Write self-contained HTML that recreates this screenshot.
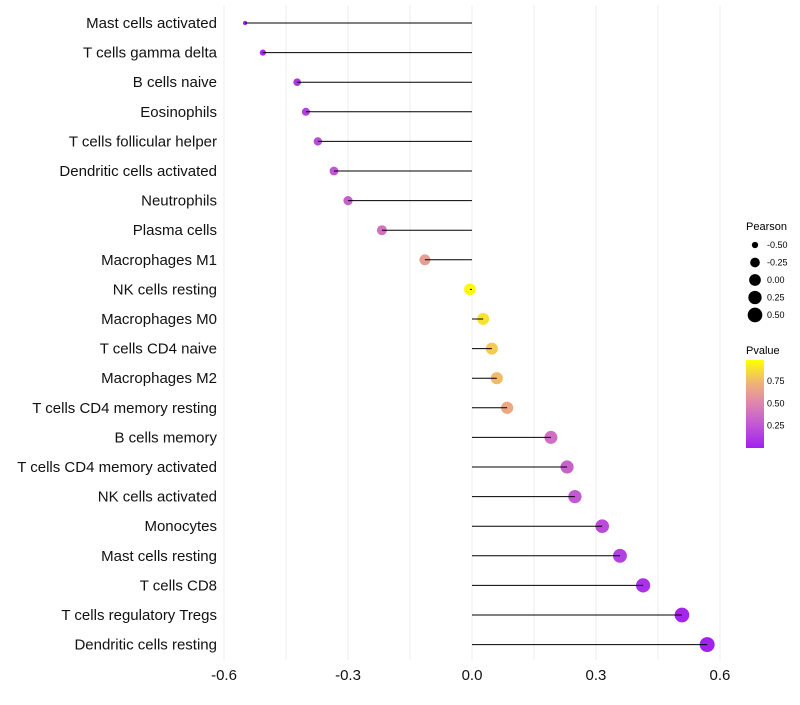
<!DOCTYPE html>
<html><head><meta charset="utf-8"><style>
body{margin:0;background:#fff;font-family:"Liberation Sans",sans-serif}
</style></head><body>
<svg id="chart" width="800" height="700" xmlns="http://www.w3.org/2000/svg" font-family="Liberation Sans, sans-serif">
<g id="grid"></g><g id="dots"></g><g id="marks"></g><g id="ylabels"></g><g id="xticks"></g>
<g id="legend">
<text x="746" y="230" font-size="11">Pearson</text>
<g id="sizeLegend"></g>
<text x="746" y="354" font-size="11">Pvalue</text>
<defs><linearGradient id="pg" x1="0" y1="1" x2="0" y2="0">
<stop offset="0" stop-color="#a020f0"/><stop offset="0.25" stop-color="#c055d5"/><stop offset="0.5" stop-color="#dc85b0"/><stop offset="0.75" stop-color="#f0b672"/><stop offset="1" stop-color="#ffff00"/></linearGradient></defs>
<rect x="746" y="360" width="18" height="88" fill="url(#pg)"/>
<g id="cbTicks"></g>
</g>
</svg>
<script>
const categories=["Mast cells activated","T cells gamma delta","B cells naive","Eosinophils","T cells follicular helper","Dendritic cells activated","Neutrophils","Plasma cells","Macrophages M1","NK cells resting","Macrophages M0","T cells CD4 naive","Macrophages M2","T cells CD4 memory resting","B cells memory","T cells CD4 memory activated","NK cells activated","Monocytes","Mast cells resting","T cells CD8","T cells regulatory  Tregs","Dendritic cells resting"];
const pearson=[-0.549,-0.506,-0.423,-0.402,-0.373,-0.334,-0.300,-0.218,-0.114,-0.005,0.027,0.048,0.060,0.085,0.191,0.230,0.249,0.315,0.358,0.414,0.508,0.569];
const pvalue=[0.02,0.05,0.1,0.15,0.2,0.25,0.3,0.4,0.62,0.98,0.9,0.82,0.77,0.68,0.38,0.32,0.27,0.2,0.15,0.08,0.03,0.01];
const xTicks=[-0.6,-0.3,0.0,0.3,0.6];
const xTickLabels=["-0.6","-0.3","0.0","0.3","0.6"];
const sizeLegendVals=[-0.5,-0.25,0,0.25,0.5];
const sizeLegendLabels=["-0.50","-0.25","0.00","0.25","0.50"];
const cbVals=[0.75,0.5,0.25];
const cbLabels=["0.75","0.50","0.25"];
const NS="http://www.w3.org/2000/svg";
const x=v=>472+v*413.3;
const y=i=>23+i*29.6;
const r=v=>2+5.5*Math.sqrt(Math.max(0,(v+0.55)/1.12));
const stops=[[0,[160,32,240]],[0.25,[192,85,213]],[0.5,[220,133,176]],[0.75,[240,182,114]],[1,[255,255,0]]];
function col(p){for(let k=1;k<stops.length;k++){if(p<=stops[k][0]){const a=stops[k-1],b=stops[k],t=(p-a[0])/(b[0]-a[0]);return "rgb("+a[1].map((c,j)=>Math.round(c+(b[1][j]-c)*t)).join(",")+")";}}return "rgb(255,255,0)";}
function mk(tag,attrs,parent){const e=document.createElementNS(NS,tag);for(const k in attrs)e.setAttribute(k,attrs[k]);document.getElementById(parent).appendChild(e);return e;}
[-0.6,-0.45,-0.3,-0.15,0,0.15,0.3,0.45,0.6].forEach(v=>{const l=mk("line",{x1:x(v),x2:x(v),y1:5,y2:660,stroke:"#ececec","stroke-width":1},"grid");

});
categories.forEach((c,i)=>{
const t=mk("text",{x:217,y:y(i)+5,"text-anchor":"end","font-size":15,fill:"#111"},"ylabels");t.textContent=c;


const d=mk("circle",{cx:x(pearson[i]),cy:y(i),r:r(pearson[i]),fill:col(pvalue[i])},"dots");


const l=mk("line",{x1:x(0),x2:x(pearson[i]),y1:y(i),y2:y(i),stroke:"#000","stroke-width":1},"marks");


});
xTicks.forEach((v,i)=>{const t=mk("text",{x:x(v),y:680,"text-anchor":"middle","font-size":15,fill:"#111"},"xticks");t.textContent=xTickLabels[i];

});
sizeLegendVals.forEach((v,i)=>{const cy=245+i*17.5;
const c=mk("circle",{cx:755,cy:cy,r:r(v),fill:"#000"},"sizeLegend");


const t=mk("text",{x:767,y:cy+3,"font-size":9},"sizeLegend");t.textContent=sizeLegendLabels[i];

});
cbVals.forEach((v,i)=>{const cy=448-v*89.5;
const t=mk("text",{x:767,y:cy+3,"font-size":9},"cbTicks");t.textContent=cbLabels[i];

});
</script>
</body></html>
